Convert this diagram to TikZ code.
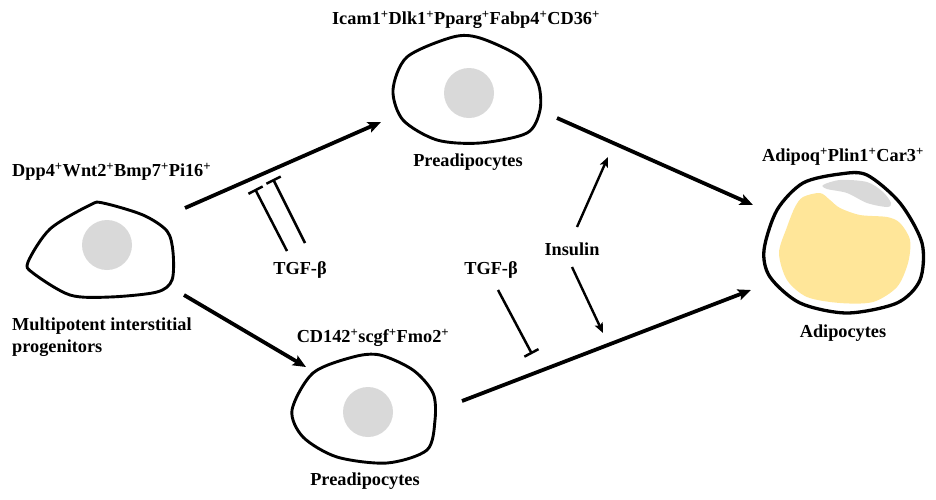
\documentclass[tikz,border=0pt]{standalone}
\usepackage{fontspec}
\setmainfont{Liberation Serif}
\usetikzlibrary{arrows.meta}
\definecolor{nucgray}{HTML}{D9D9D9}
\definecolor{fatyellow}{HTML}{FFE699}
\begin{document}
\begin{tikzpicture}[x=1pt,y=-1pt,
  lbl/.style={font=\fontsize{18.3}{21.5}\selectfont\bfseries, inner sep=0pt},
  cellline/.style={line width=2.9pt, line join=round},
  nucleus/.style={fill=nucgray, draw=none},
  fwd/.style={line width=3.8pt, -{Stealth[length=13pt,width=11pt,inset=2.5pt]}},
  thin/.style={line width=2.4pt, -{Stealth[length=10pt,width=8.5pt,inset=2pt]}},
  inhib/.style={line width=2.5pt, -{Bar[width=16pt,line width=2.5pt]}}]
\useasboundingbox (0,0) rectangle (936,499);
% ---------- cells ----------
% multipotent progenitor
\draw[cellline, smooth cycle] plot coordinates {(28,262) (50,229) (90,205) (103,203) (143,215) (167,231) (173,252) (172,280) (157,292) (110,297) (70,295) (33,273)};
\fill[nucleus] (107,245) circle (25);
% top preadipocyte
\draw[cellline, smooth cycle] plot coordinates {(393,90) (407,57) (453,37) (480,38) (520,57) (538,83) (540,110) (527,133) (480,143) (437,140) (403,120)};
\fill[nucleus] (469,93) circle (25);
% bottom preadipocyte
\draw[cellline, smooth cycle] plot coordinates {(292,410) (313,373) (353,357) (380,355) (413,370) (433,393) (435,420) (427,450) (387,463) (337,457) (303,437)};
\fill[nucleus] (368,412) circle (25);
% adipocyte
\fill[fatyellow, smooth cycle] plot coordinates {(803,197) (820,193) (830,200) (840,208) (860,215) (887,217) (900,223) (910,240) (908,263) (897,287) (873,302) (840,303) (807,297) (787,280) (779,253) (787,227) (795,207)};
\fill[nucgray, smooth cycle] plot coordinates {(823,185) (840,180) (867,182) (883,192) (891,203) (887,207) (867,203) (847,193) (827,189)};
\draw[line width=3.3pt, smooth cycle] plot coordinates {(803,183) (840,174) (867,175) (900,203) (922,243) (920,280) (897,303) (847,313) (800,303) (770,277) (764,250) (777,210)};
% ---------- labels ----------
\node[lbl, anchor=west] (mipm) at (12,172) {Dpp4\textsuperscript{+}Wnt2\textsuperscript{+}Bmp7\textsuperscript{+}Pi16\textsuperscript{+}};
\node[lbl, anchor=west, align=left] (mipn) at (12,337) {Multipotent interstitial\\progenitors};
\node[lbl] (topm) at (466,20) {Icam1\textsuperscript{+}Dlk1\textsuperscript{+}Pparg\textsuperscript{+}Fabp4\textsuperscript{+}CD36\textsuperscript{+}};
\node[lbl] (topn) at (468,162) {Preadipocytes};
\node[lbl] (botm) at (373,338) {CD142\textsuperscript{+}scgf\textsuperscript{+}Fmo2\textsuperscript{+}};
\node[lbl] (botn) at (365,481) {Preadipocytes};
\node[lbl] (adm) at (843,157) {Adipoq\textsuperscript{+}Plin1\textsuperscript{+}Car3\textsuperscript{+}};
\node[lbl] (adn) at (843,333) {Adipocytes};
\node[lbl] (tgf1) at (300,270) {TGF-β};
\node[lbl] (tgf2) at (491,270) {TGF-β};
\node[lbl] (ins) at (572,249) {Insulin};
% ---------- connector end points ----------
\coordinate (a1s) at (185,208); \coordinate (a1e) at (381,122);
\coordinate (a2s) at (184,295); \coordinate (a2e) at (306,367);
\coordinate (a3s) at (557,118); \coordinate (a3e) at (753,205);
\coordinate (a4s) at (462,401); \coordinate (a4e) at (751,290);
\coordinate (i1s) at (577,227); \coordinate (i1e) at (608,157);
\coordinate (i2s) at (572,267); \coordinate (i2e) at (603,333);
\coordinate (t1s) at (287,251); \coordinate (t1e) at (255,189);
\coordinate (t2s) at (305,243); \coordinate (t2e) at (273,179);
\coordinate (t3s) at (498,290); \coordinate (t3e) at (532,354);
% ---------- connectors ----------
\draw[fwd] (a1s) -- (a1e);
\draw[fwd] (a2s) -- (a2e);
\draw[fwd] (a3s) -- (a3e);
\draw[fwd] (a4s) -- (a4e);
\draw[thin] (i1s) -- (i1e);
\draw[thin] (i2s) -- (i2e);
\draw[inhib] (t1s) -- (t1e);
\draw[inhib] (t2s) -- (t2e);
\draw[inhib] (t3s) -- (t3e);
\end{tikzpicture}
\end{document}
